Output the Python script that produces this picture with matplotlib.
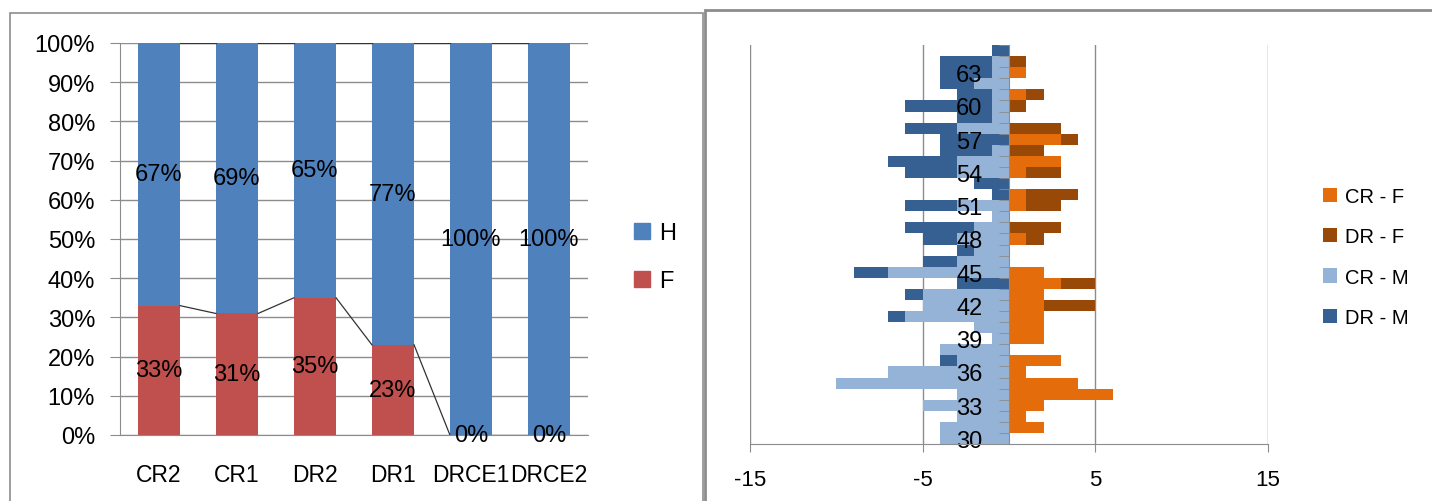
import numpy as np
import matplotlib.pyplot as plt
from matplotlib.patches import Patch, Rectangle

plt.rcParams['font.family'] = ['Liberation Sans', 'DejaVu Sans']
plt.rcParams['axes.unicode_minus'] = False

# left panel: share of women / men per group (%)
groups = ['CR2', 'CR1', 'DR2', 'DR1', 'DRCE1', 'DRCE2']
share_f = [33, 31, 35, 23, 0, 0]
share_h = [67, 69, 65, 77, 100, 100]

# right panel: age pyramid, counts per age (30..65)
ages = list(range(30, 66))
cr_f = [0, 2, 1, 2, 6, 4, 1, 3, 0, 2,
        2, 2, 2, 2, 3, 2, 0, 0, 1, 0,
        0, 1, 1, 0, 1, 3, 0, 3, 0, 0,
        0, 1, 0, 1, 0, 0]
dr_f = [0, 0, 0, 0, 0, 0, 0, 0, 0, 0,
        0, 0, 3, 0, 2, 0, 0, 0, 1, 3,
        0, 2, 3, 0, 2, 0, 2, 1, 3, 0,
        1, 1, 0, 0, 1, 0]
cr_m = [4, 4, 3, 5, 3, 10, 7, 3, 4, 1,
        2, 6, 5, 5, 0, 7, 3, 2, 3, 2,
        1, 3, 0, 0, 3, 3, 1, 0, 3, 1,
        1, 1, 2, 1, 1, 0]
dr_m = [0, 0, 0, 0, 0, 0, 0, 1, 0, 0,
        0, 1, 0, 1, 3, 2, 2, 1, 2, 4,
        0, 3, 1, 2, 3, 4, 3, 4, 3, 2,
        5, 2, 2, 3, 3, 1]

W, H = 1432, 502
fig = plt.figure(figsize=(W / 100, H / 100), dpi=100)
grid_c = '#8c8c8c'

# ---------- left: 100% stacked columns ----------
ax1 = fig.add_axes([120 / W, 66 / H, 468 / W, 392 / H])
x = np.arange(len(groups))
bw = 0.54
f = np.array(share_f)
h = np.array(share_h)
ax1.bar(x, f, bw, color='#C0504D', zorder=2)
ax1.bar(x, h, bw, bottom=f, color='#4F81BD', zorder=2)

# series lines between the columns
for i in range(len(groups) - 1):
    ax1.plot([i + bw / 2, i + 1 - bw / 2], [f[i], f[i + 1]], color='#333333', lw=0.9, zorder=3)
    ax1.plot([i + bw / 2, i + 1 - bw / 2], [f[i] + h[i], f[i + 1] + h[i + 1]],
             color='#333333', lw=0.9, zorder=3)

for i in range(len(groups)):
    ax1.text(x[i], f[i] / 2, f'{share_f[i]}%', ha='center', va='center', fontsize=17, zorder=4)
    ax1.text(x[i], f[i] + h[i] / 2, f'{share_h[i]}%', ha='center', va='center', fontsize=17, zorder=4)

ax1.set_xlim(-0.5, len(groups) - 0.5)
ax1.set_ylim(0, 100)
ax1.set_yticks(range(0, 101, 10))
ax1.set_yticklabels([f'{v}%' for v in range(0, 101, 10)], fontsize=17)
ax1.set_xticks(x)
ax1.set_xticklabels(groups, fontsize=16.5)
ax1.tick_params(axis='x', length=0, pad=20)
ax1.tick_params(axis='y', length=7, color=grid_c, pad=11)
ax1.yaxis.grid(True, color=grid_c, lw=1)
ax1.set_axisbelow(True)
for s in ['top', 'right']:
    ax1.spines[s].set_visible(False)
for s in ['left', 'bottom']:
    ax1.spines[s].set_color(grid_c)

fig.legend(handles=[Patch(color='#4F81BD', label='H'), Patch(color='#C0504D', label='F')],
           loc='center left', bbox_to_anchor=(613 / W, 1 - 258 / H), frameon=False,
           fontsize=17, handlelength=0.65, handleheight=0.65, handletextpad=0.4, labelspacing=1.1)

# ---------- right: age pyramid ----------
ax2 = fig.add_axes([750 / W, 57 / H, 518 / W, 399 / H])
ax2.spines['left'].set_position(('data', 0))
y = np.array(ages)
crf = np.array(cr_f)
drf = np.array(dr_f)
crm = np.array(cr_m)
drm = np.array(dr_m)
ax2.barh(y, crf, 1.0, color='#E46C0A', label='CR - F')
ax2.barh(y, drf, 1.0, left=crf, color='#984807', label='DR - F')
ax2.barh(y, -crm, 1.0, color='#95B3D7', label='CR - M')
ax2.barh(y, -drm, 1.0, left=-crm, color='#366092', label='DR - M')

for v in [-15, -5, 5, 15]:
    ax2.axvline(v, color=grid_c, lw=1, zorder=0.5)

ax2.set_xlim(-15, 15)
ax2.set_ylim(ages[0] - 0.5, ages[-1] + 0.5)
ax2.set_xticks([-15, -5, 5, 15])
ax2.tick_params(axis='x', length=6, color=grid_c, labelsize=16, pad=12)
ax2.set_yticks(ages[::3])
ax2.set_yticklabels([str(a) for a in ages[::3]])
ax2.set_yticks(np.arange(ages[0] - 0.5, ages[-1] + 1), minor=True)
ax2.tick_params(axis='y', which='major', length=0, pad=19, labelsize=17)
ax2.tick_params(axis='y', which='minor', length=7, color=grid_c)
ax2.spines['left'].set_color(grid_c)
ax2.spines['bottom'].set_color(grid_c)
for s in ['top', 'right']:
    ax2.spines[s].set_visible(False)

handles, labels = ax2.get_legend_handles_labels()
fig.legend(handles, labels, loc='center left', bbox_to_anchor=(1305 / W, 1 - 258 / H), frameon=False,
           fontsize=14.5, handlelength=0.7, handleheight=0.7, handletextpad=0.4, labelspacing=1.05)

# panel frames
fig.add_artist(Rectangle((10 / W, -0.02), 693 / W, 1 - 14 / H + 0.02, transform=fig.transFigure,
                         fill=False, edgecolor='#8c8c8c', lw=1.2))
fig.add_artist(Rectangle((705 / W, -0.02), 1, 1 - 11 / H + 0.02, transform=fig.transFigure,
                         fill=False, edgecolor='#8c8c8c', lw=2))

fig.savefig('out.png', dpi=100)
